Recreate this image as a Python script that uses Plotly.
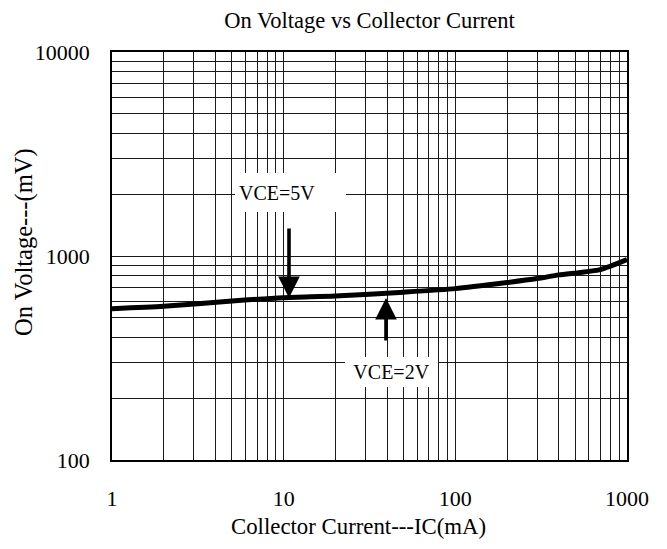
import plotly.graph_objects as go

# Data
collector_current_mA = [1, 2, 5, 10, 20, 50, 100, 200, 300, 400, 700, 1000]
on_voltage_mV = [552, 567, 602, 625, 637, 665, 692, 741, 775, 808, 858, 960]

x_tick_vals = [1, 10, 100, 1000]
x_tick_text = ["1", "10", "100", "1000"]
y_tick_vals = [100, 1000, 10000]
y_tick_text = ["100", "1000", "10000"]
x_minor = [m * d for d in (1, 10, 100) for m in range(2, 10)]
y_minor = [m * d for d in (100, 1000) for m in range(2, 10)]

FONT = "Liberation Serif"
GRID = "#1a1a1a"
OFF = 8  # page body margin of the html page

fig = go.Figure()
fig.add_trace(go.Scatter(
    x=collector_current_mA, y=on_voltage_mV, mode="lines",
    line=dict(color="black", width=5, shape="spline", smoothing=0.6),
    showlegend=False, hoverinfo="skip",
))

fig.update_layout(
    width=667, height=549,
    margin=dict(l=112 - OFF, r=40 + OFF, t=52 - OFF, b=89 + OFF),
    paper_bgcolor="white", plot_bgcolor="white",
    font=dict(family=FONT, color="black", size=22),
    title=dict(text="On Voltage vs Collector Current", x=0.5, xref="paper",
               y=1 - (20 - OFF) / 549, yref="container", xanchor="center", yanchor="middle",
               font=dict(family=FONT, size=22.5, color="black")),
    showlegend=False,
)

fig.update_xaxes(
    type="log", range=[0, 3], tickvals=x_tick_vals, ticktext=x_tick_text,
    ticks="", ticklabelstandoff=18, tickfont=dict(size=22),
    showgrid=True, gridcolor=GRID, gridwidth=1,
    minor=dict(tickvals=x_minor, showgrid=True, gridcolor=GRID, gridwidth=1, ticks=""),
    showline=True, linecolor="black", linewidth=1.5, mirror=True, zeroline=False,
)
fig.update_yaxes(
    type="log", range=[2, 4], tickvals=y_tick_vals, ticktext=y_tick_text,
    ticks="", ticklabelstandoff=16, tickfont=dict(size=22),
    showgrid=True, gridcolor=GRID, gridwidth=1,
    minor=dict(tickvals=y_minor, showgrid=True, gridcolor=GRID, gridwidth=1, ticks=""),
    showline=True, linecolor="black", linewidth=1.5, mirror=True, zeroline=False,
)

annotations = [
    # axis titles
    dict(text="Collector Current---IC(mA)", xref="paper", yref="paper",
         x=(358 - 112) / 515, y=(460 - 526) / 408, showarrow=False,
         xanchor="center", yanchor="middle", font=dict(size=22.8)),
    dict(text="On Voltage---(mV)", xref="paper", yref="paper",
         x=(24 - 112) / 515, y=(460 - 242) / 408, showarrow=False, textangle=-90,
         xanchor="center", yanchor="middle", font=dict(size=24.5)),
    # curve labels with white boxes
    dict(text="VCE=5V", xref="paper", yref="paper",
         x=(290.5 - 112) / 515, y=(460 - 192.5) / 408, showarrow=False,
         xanchor="center", yanchor="middle", align="left",
         width=103, height=31, borderpad=4, borderwidth=0,
         bgcolor="white", font=dict(size=20)),
    dict(text="VCE=2V", xref="paper", yref="paper",
         x=(391.5 - 112) / 515, y=(460 - 372) / 408, showarrow=False,
         xanchor="center", yanchor="middle", align="center",
         width=85, height=22, borderpad=4, borderwidth=0,
         bgcolor="white", font=dict(size=20)),
    # arrows
    dict(text="", xref="paper", yref="paper",
         x=(289 - 112) / 515, y=(460 - 298) / 408,
         showarrow=True, arrowhead=2, arrowsize=1.2, arrowwidth=3.6,
         arrowcolor="black", ax=0, ay=-71, standoff=0),
    dict(text="", xref="paper", yref="paper",
         x=(386 - 112) / 515, y=(460 - 298) / 408,
         showarrow=True, arrowhead=2, arrowsize=1.2, arrowwidth=3.6,
         arrowcolor="black", ax=0, ay=44, standoff=0),
]
fig.update_layout(annotations=annotations)

fig.write_html("out.html")
